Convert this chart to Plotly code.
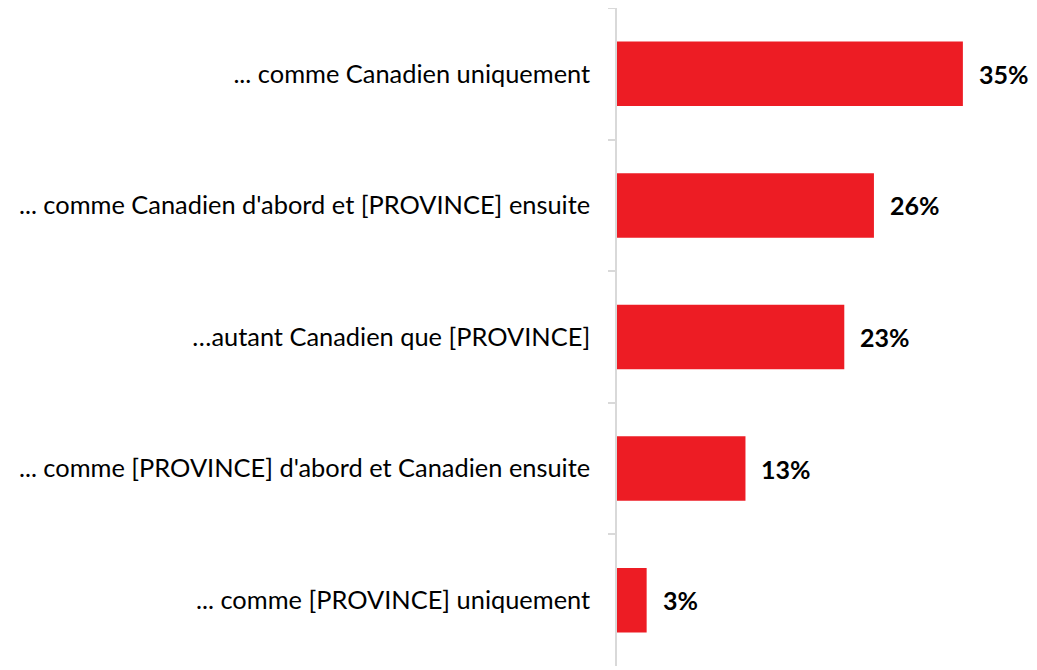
import plotly.graph_objects as go

categories = [
    "... comme Canadien uniquement",
    "... comme Canadien d'abord et [PROVINCE] ensuite",
    "…autant Canadien que [PROVINCE]",
    "... comme [PROVINCE] d'abord et Canadien ensuite",
    "... comme [PROVINCE] uniquement",
]
values = [35, 26, 23, 13, 3]
labels = ["35%", "26%", "23%", "13%", "3%"]

FONT = "Lato, Liberation Sans, Arial"

fig = go.Figure(go.Bar(
    x=values, y=categories, orientation="h",
    marker=dict(color="#ED1C24", line=dict(width=0)),
    hoverinfo="skip",
))

for v, c, t in zip(values, categories, labels):
    fig.add_annotation(x=v, y=c, text=f"<b>{t}</b>", showarrow=False,
                       xanchor="left", xshift=14,
                       font=dict(family=FONT, size=25, color="#000000"))

fig.update_layout(
    width=1037, height=670,
    margin=dict(l=609, r=8, t=0, b=12),
    plot_bgcolor="white", paper_bgcolor="white",
    bargap=0.51,
    showlegend=False,
    xaxis=dict(range=[0, 42.5], visible=False),
    yaxis=dict(
        autorange="reversed", automargin=False,
        showline=True, linecolor="#D9D9D9", linewidth=1.5,
        ticks="outside", tickson="boundaries", ticklen=7, tickcolor="#D9D9D9", tickwidth=1.5,
        ticklabelstandoff=20,
        tickfont=dict(family=FONT, size=25.4, color="#000000"),
        showgrid=False, zeroline=False,
    ),
)

fig.write_html("out.html")
